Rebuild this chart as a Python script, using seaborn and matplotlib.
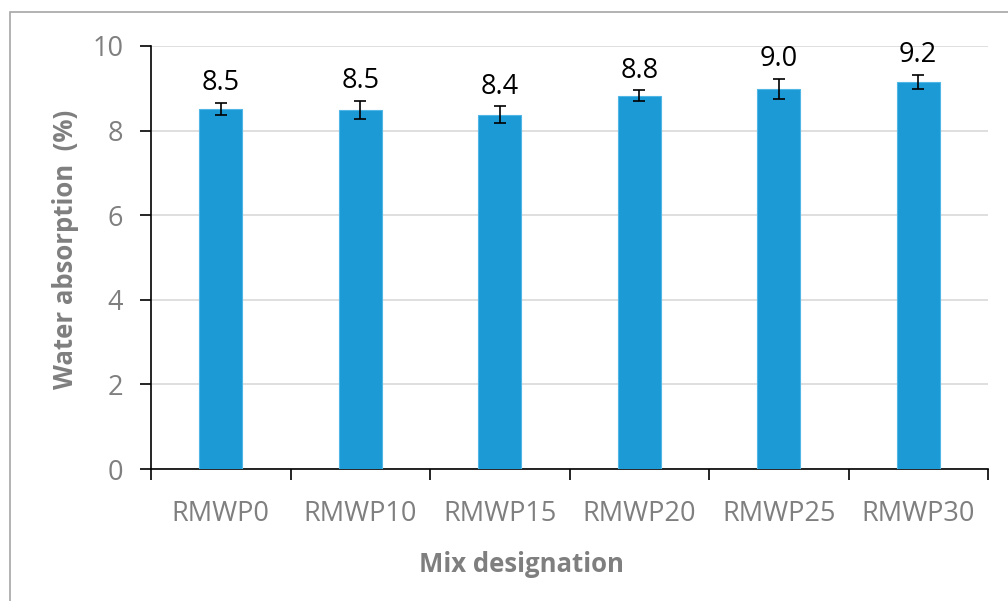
import matplotlib
matplotlib.use("Agg")
import matplotlib.pyplot as plt
import seaborn as sns
import pandas as pd
import numpy as np
from matplotlib.patches import Rectangle

# Data
mixes = ["RMWP0", "RMWP10", "RMWP15", "RMWP20", "RMWP25", "RMWP30"]
absorption = [8.51, 8.49, 8.37, 8.82, 8.98, 9.15]
errors = [0.15, 0.21, 0.20, 0.13, 0.24, 0.17]
labels = ["8.5", "8.5", "8.4", "8.8", "9.0", "9.2"]
yticks = [0, 2, 4, 6, 8, 10]

sns.set_theme(style="white")
plt.rcParams['font.family'] = ['Open Sans', 'DejaVu Sans']

W, H = 1008, 601
fig = plt.figure(figsize=(W / 100, H / 100), dpi=100)
ax = fig.add_axes([151 / W, 1 - 469 / H, (988 - 151) / W, (469 - 46) / H])

df = pd.DataFrame({"mix": mixes, "val": absorption})
sns.barplot(data=df, x="mix", y="val", order=mixes, color="#1b9ad6",
            saturation=1, width=0.31, edgecolor="#4fb6e6", linewidth=0.8, ax=ax, zorder=3)

xs = np.arange(len(mixes))
ax.errorbar(xs, absorption, yerr=errors, fmt="none", ecolor="black",
            elinewidth=1.2, capsize=4.5, capthick=1.2, zorder=4)

for x, v, e, t in zip(xs, absorption, errors, labels):
    ax.annotate(t, (x, v + e), xytext=(0, 4), textcoords="offset points",
                ha="center", va="bottom", fontsize=19.5, color="black")

ax.set_xlim(-0.5, len(mixes) - 0.5)
ax.set_ylim(0, 10)
ax.set_yticks(yticks)
ax.set_yticklabels([str(v) for v in yticks])
ax.yaxis.grid(True, color="#d9d9d9", linewidth=1.2, zorder=0)
ax.set_axisbelow(True)

gray = "#7f7f7f"
ax.tick_params(axis="y", which="major", direction="out", length=8, width=1.2,
               color="black", labelsize=19.5, labelcolor=gray, pad=12, left=True)
ax.tick_params(axis="x", which="major", length=0, labelsize=19.5, labelcolor=gray, pad=22)
ax.set_xticks(np.arange(-0.5, len(mixes), 1.0), minor=True)
ax.tick_params(axis="x", which="minor", direction="out", length=8, width=1.2,
               color="black", bottom=True)

for s in ["top", "right"]:
    ax.spines[s].set_visible(False)
for s in ["left", "bottom"]:
    ax.spines[s].set_color("black")
    ax.spines[s].set_linewidth(1.2)

ax.set_xlabel("")
ax.set_ylabel("")
fig.text(521 / W, 1 - 565 / H, "Mix designation", ha="center", va="center",
         fontsize=18.5, fontweight="bold", color=gray)
fig.text(66 / W, 1 - 249 / H, "Water absorption  (%)", ha="center", va="center",
         rotation=90, fontsize=18.5, fontweight="bold", color=gray)

# outer chart border
fig.patches.append(Rectangle((10 / W, -0.05), 1.2, 1 - 12 / H + 0.05,
                             transform=fig.transFigure, fill=False,
                             edgecolor="#a6a6a6", linewidth=1.2))

fig.savefig("out.png", dpi=100)
